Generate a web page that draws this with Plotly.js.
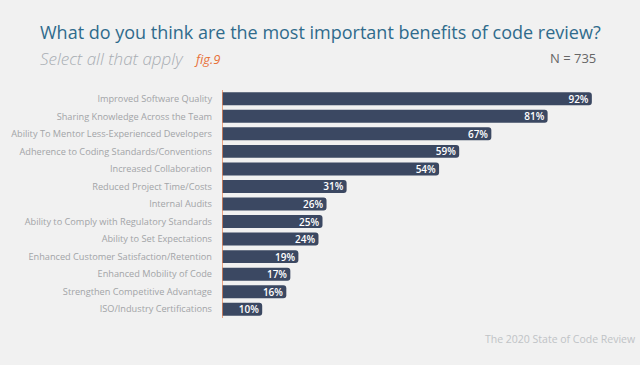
<!DOCTYPE html>
<html><head><meta charset="utf-8">
<script src="https://cdn.plot.ly/plotly-3.0.1.min.js"></script>
<style>html,body{margin:0;padding:0;background:#f1f1f1;}#c{width:640px;height:365px;}</style>
</head><body><div id="c"></div>
<script>
const categories = [
  "Improved Software Quality",
  "Sharing Knowledge Across the Team",
  "Ability To Mentor Less-Experienced Developers",
  "Adherence to Coding Standards/Conventions",
  "Increased Collaboration",
  "Reduced Project Time/Costs",
  "Internal Audits",
  "Ability to Comply with Regulatory Standards",
  "Ability to Set Expectations",
  "Enhanced Customer Satisfaction/Retention",
  "Enhanced Mobility of Code",
  "Strengthen Competitive Advantage",
  "ISO/Industry Certifications"
];
const values = [92, 81, 67, 59, 54, 31, 26, 25, 24, 19, 17, 16, 10];
const labels = values.map(v => v + "%");

const trace = {
  type: "bar", orientation: "h",
  x: values, y: categories,
  text: labels, textposition: "inside", insidetextanchor: "end",
  constraintext: "none", cliponaxis: false,
  textfont: {family: "Open Sans", size: 10, color: "#ffffff", weight: 600},
  marker: {color: "#3b4862", cornerradius: 3},
  width: 0.74, hoverinfo: "none"
};
const layout = {
  width: 640, height: 365,
  paper_bgcolor: "#f1f1f1", plot_bgcolor: "#f1f1f1",
  margin: {l: 222, r: 16, t: 90, b: 47},
  showlegend: false,
  xaxis: {range: [0, 100], visible: false, fixedrange: true},
  yaxis: {autorange: "reversed", showgrid: false, zeroline: false,
          showline: false, ticks: "", ticklen: 0, ticklabelstandoff: 9,
          tickfont: {family: "Open Sans", size: 9.2, color: "#a2a4a7"}},
  shapes: [{type: "line", xref: "x", yref: "paper", x0: 0, x1: 0, y0: 0, y1: 1,
            line: {color: "#e8875a", width: 1.5}}],
  annotations: [
    {text: "What do you think are the most important benefits of code review?", xref: "paper", yref: "paper",
     x: -222/402 + 38/402, y: 1, yshift: 58, xanchor: "left", yanchor: "middle", showarrow: false,
     font: {family: "Open Sans", size: 18, color: "#2f6b8c"}},
    {text: "<i>Select all that apply</i>", xref: "paper", yref: "paper",
     x: -222/402 + 38/402, y: 1, yshift: 32, xanchor: "left", yanchor: "middle", showarrow: false,
     font: {family: "Open Sans", size: 17, color: "#a8adb3", weight: 300}},
    {text: "<i>fig.9</i>", xref: "paper", yref: "paper",
     x: -222/402 + 192/402, y: 1, yshift: 31, xanchor: "left", yanchor: "middle", showarrow: false,
     font: {family: "Open Sans", size: 13, color: "#e8713a"}},
    {text: "N = 735", xref: "paper", yref: "paper",
     x: (598-222)/402, y: 1, yshift: 32, xanchor: "right", yanchor: "middle", showarrow: false,
     font: {family: "Open Sans", size: 13, color: "#666666"}},
    {text: "The 2020 State of Code Review", xref: "paper", yref: "paper",
     x: (638-222)/402, y: 0, yshift: -21, xanchor: "right", yanchor: "middle", showarrow: false,
     font: {family: "Open Sans", size: 10.5, color: "#c0c3c6"}}
  ]
};
Plotly.newPlot("c", [trace], layout, {displayModeBar: false, staticPlot: true});
</script></body></html>
